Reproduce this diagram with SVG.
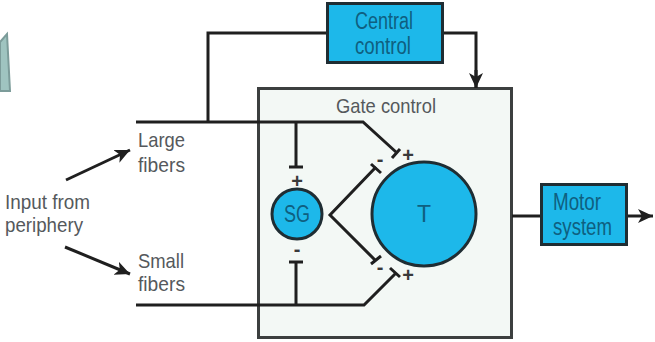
<svg xmlns="http://www.w3.org/2000/svg" width="655" height="342" viewBox="0 0 655 342">
<defs>
<style>
.t{font-family:"Liberation Sans",Arial,sans-serif;font-size:21px;fill:#55595c}
.b{font-family:"Liberation Sans",Arial,sans-serif;font-size:23px;fill:#0f5f80}
.c{fill:none;stroke:#1f1f1f;stroke-width:3}
.box{fill:#1db8ea;stroke:#1f2d33;stroke-width:3}
.s{font-family:"Liberation Sans",Arial,sans-serif;font-size:20px;font-weight:bold;fill:#3a3a3a;text-anchor:middle}
</style>
<marker id="a" markerUnits="userSpaceOnUse" markerWidth="20" markerHeight="18" refX="15" refY="7" orient="auto"><path d="M0 0L15 7L0 14L4 7Z" fill="#1f1f1f"/></marker>
</defs>
<rect width="655" height="342" fill="#fff"/>
<polygon id="fragment" points="0,42 7,34 10,91 0,91" fill="#9fc4c0" stroke="#7c9c9a" stroke-width="2"/>
<g id="gate"><rect x="258.500" y="88.500" width="253" height="249" fill="#f3f8f5" stroke="#3c3f3f" stroke-width="3"/>
<text class="t" x="336" y="113" textLength="100" lengthAdjust="spacingAndGlyphs">Gate control</text></g>
<g id="connectors">
<path class="c" d="M136 122H363L396 152M208 122V33H327M443 33H476V88"/>
<path class="c" d="M136 305H364L396 273M296 122V167M296 305V262"/>
<path class="c" d="M376 167L330 215L376 261"/>
<path class="c" d="M392 158L400 149M390 268L400 277M371 164L381 173M371 264L381 256M289 167H303M289 262H303"/>
<path class="c" d="M512 216H541"/>
<path class="c" d="M476 70V88" marker-end="url(#a)"/>
<path class="c" d="M627 216H653" marker-end="url(#a)"/>
<path class="c" d="M66 180L130 150" marker-end="url(#a)"/>
<path class="c" d="M65 247L130 274" marker-end="url(#a)"/>
</g>
<g id="central"><rect class="box" x="327.500" y="3.500" width="115" height="59"/>
<text class="b" x="355" y="29" textLength="58" lengthAdjust="spacingAndGlyphs">Central</text>
<text class="b" x="355" y="54" textLength="56" lengthAdjust="spacingAndGlyphs">control</text></g>
<g id="motor"><rect class="box" x="541.500" y="184.500" width="85" height="60"/>
<text class="b" x="553" y="210" textLength="48" lengthAdjust="spacingAndGlyphs">Motor</text>
<text class="b" x="553" y="235" textLength="59" lengthAdjust="spacingAndGlyphs">system</text></g>
<g id="sg"><circle class="box" cx="297" cy="214" r="25"/><text class="b" x="284" y="222" textLength="26" lengthAdjust="spacingAndGlyphs">SG</text></g>
<g id="tcell"><circle class="box" cx="424" cy="214" r="52"/><text class="b" x="424" y="222" text-anchor="middle">T</text></g>
<g id="signs">
<text class="s" x="297" y="188">+</text><text class="s" x="297" y="256">-</text>
<text class="s" x="408" y="162">+</text><text class="s" x="408" y="282">+</text>
<text class="s" x="380" y="166">-</text><text class="s" x="380" y="274">-</text>
</g>
<g id="labels">
<text class="t" x="138" y="147" textLength="47" lengthAdjust="spacingAndGlyphs">Large</text>
<text class="t" x="138" y="172" textLength="47" lengthAdjust="spacingAndGlyphs">fibers</text>
<text class="t" x="138" y="268" textLength="46" lengthAdjust="spacingAndGlyphs">Small</text>
<text class="t" x="138" y="291" textLength="47" lengthAdjust="spacingAndGlyphs">fibers</text>
<text class="t" x="5" y="209" textLength="85" lengthAdjust="spacingAndGlyphs">Input from</text>
<text class="t" x="5" y="232" textLength="78" lengthAdjust="spacingAndGlyphs">periphery</text>
</g>
</svg>
